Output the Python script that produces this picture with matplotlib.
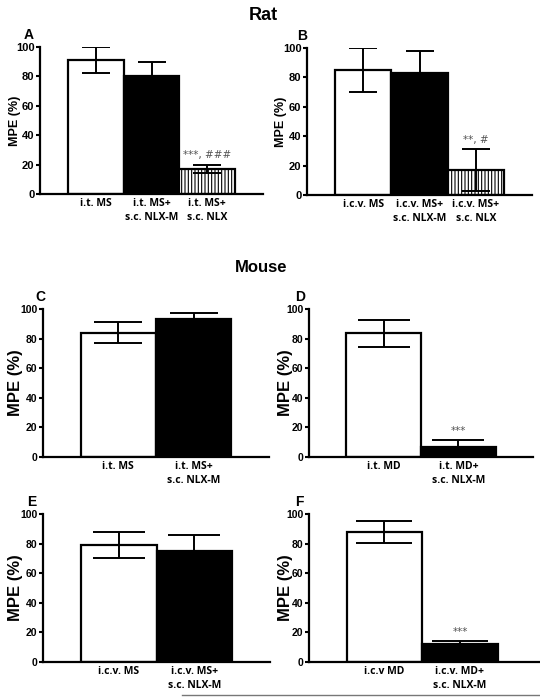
import matplotlib
matplotlib.use('Agg')
import matplotlib.pyplot as plt
from matplotlib.lines import Line2D

plt.rcParams['font.family'] = ['Liberation Sans', 'DejaVu Sans']
plt.rcParams['hatch.linewidth'] = 0.8

# --- data ---
a_labels = ['i.t. MS', 'i.t. MS+\ns.c. NLX-M', 'i.t. MS+\ns.c. NLX']
a_mpe = [91, 80, 17]
a_sem = [9, 10, 3]

b_labels = ['i.c.v. MS', 'i.c.v. MS+\ns.c. NLX-M', 'i.c.v. MS+\ns.c. NLX']
b_mpe = [85, 83, 17]
b_sem = [15, 15, 14]

c_labels = ['i.t. MS', 'i.t. MS+\ns.c. NLX-M']
c_mpe = [84, 93]
c_sem = [7, 4.5]

d_labels = ['i.t. MD', 'i.t. MD+\ns.c. NLX-M']
d_mpe = [83.5, 7]
d_sem = [9, 4.5]

e_labels = ['i.c.v. MS', 'i.c.v. MS+\ns.c. NLX-M']
e_mpe = [79, 75]
e_sem = [9, 11]

f_labels = ['i.c.v MD', 'i.c.v. MD+\ns.c. NLX-M']
f_mpe = [88, 12]
f_sem = [7.5, 2.2]

a_stars = ['', '', '***, ###']
b_stars = ['', '', '**, #']
d_stars = ['', '***']
f_stars = ['', '***']

yticks = [0, 20, 40, 60, 80, 100]

fig = plt.figure(figsize=(5.4, 6.97), dpi=100)
W, H = 540, 697


def px_axes(left, right, bottom, top):
    return fig.add_axes([left / W, 1 - bottom / H, (right - left) / W, (bottom - top) / H])


def panel(ax, letter, labels, mpe, sem, stars, xlim, cap, ylab_size, tick_size,
          letter_x, ylab_x):
    fills = ['white', 'black', 'white']
    hatches = ['', '', '|||||']
    for i, (v, s) in enumerate(zip(mpe, sem)):
        ax.bar(i, v, width=1.0, color=fills[i], edgecolor='black',
               linewidth=1.6, hatch=hatches[i], zorder=2)
        ax.errorbar(i, v, yerr=s, fmt='none', ecolor='black',
                    elinewidth=1.4, capsize=cap, capthick=1.4, zorder=3)
        if stars[i]:
            ax.annotate(stars[i], (i, v + s), xytext=(0, 3), textcoords='offset points',
                        ha='center', va='bottom', fontsize=7.5, color='#555555',
                        family='DejaVu Sans')
    ax.set_xlim(*xlim)
    ax.set_ylim(0, 100)
    ax.set_yticks(yticks)
    ax.set_xticks(range(len(labels)))
    ax.set_xticklabels(labels, fontsize=7.5, fontweight='bold', family='Open Sans',
                       linespacing=1.3)
    ax.tick_params(axis='x', length=0, pad=3)
    ax.tick_params(axis='y', length=3, width=1.5, pad=1, labelsize=tick_size)
    for t in ax.get_yticklabels():
        t.set_fontweight('bold')
    for sp in ['top', 'right']:
        ax.spines[sp].set_visible(False)
    for sp in ['left', 'bottom']:
        ax.spines[sp].set_linewidth(1.6)
    ax.set_ylabel('MPE (%)', fontsize=ylab_size, fontweight='bold')
    ax.yaxis.set_label_coords(ylab_x, 0.5)
    ax.text(letter_x, 1.08, letter, transform=ax.transAxes, fontsize=10,
            fontweight='bold', ha='center', va='center')


axA = px_axes(40, 263, 194, 47)
axB = px_axes(307, 532, 195, 48)
axC = px_axes(43, 269, 457, 309)
axD = px_axes(309, 533, 457, 309)
axE = px_axes(43, 270, 662, 514)
axF = px_axes(309, 540, 662, 514)

panel(axA, 'A', a_labels, a_mpe, a_sem, a_stars, (-1, 3), 10, 9, 8, -0.05, -0.085)
panel(axB, 'B', b_labels, b_mpe, b_sem, b_stars, (-1, 3), 10, 9, 8, -0.02, -0.088)
panel(axC, 'C', c_labels, c_mpe, c_sem, ['', ''], (-1, 2), 17, 12, 7.5, -0.01, -0.088)
panel(axD, 'D', d_labels, d_mpe, d_sem, d_stars, (-1, 2), 19, 12, 7.5, -0.04, -0.071)
panel(axE, 'E', e_labels, e_mpe, e_sem, ['', ''], (-1, 2), 19, 12, 7.5, -0.05, -0.088)
panel(axF, 'F', f_labels, f_mpe, f_sem, f_stars, (-1, 2.06), 20, 12, 7.5, -0.04, -0.069)

fig.text(263 / W, 1 - 15 / H, 'Rat', fontsize=13, fontweight='bold', ha='center', va='center')
fig.text(261 / W, 1 - 267 / H, 'Mouse', fontsize=12, fontweight='bold', ha='center', va='center')

fig.add_artist(Line2D([182 / W, 1], [1 - 695 / H, 1 - 695 / H], color='#777777',
                      linewidth=1, transform=fig.transFigure))

fig.savefig('out.png', dpi=100)
